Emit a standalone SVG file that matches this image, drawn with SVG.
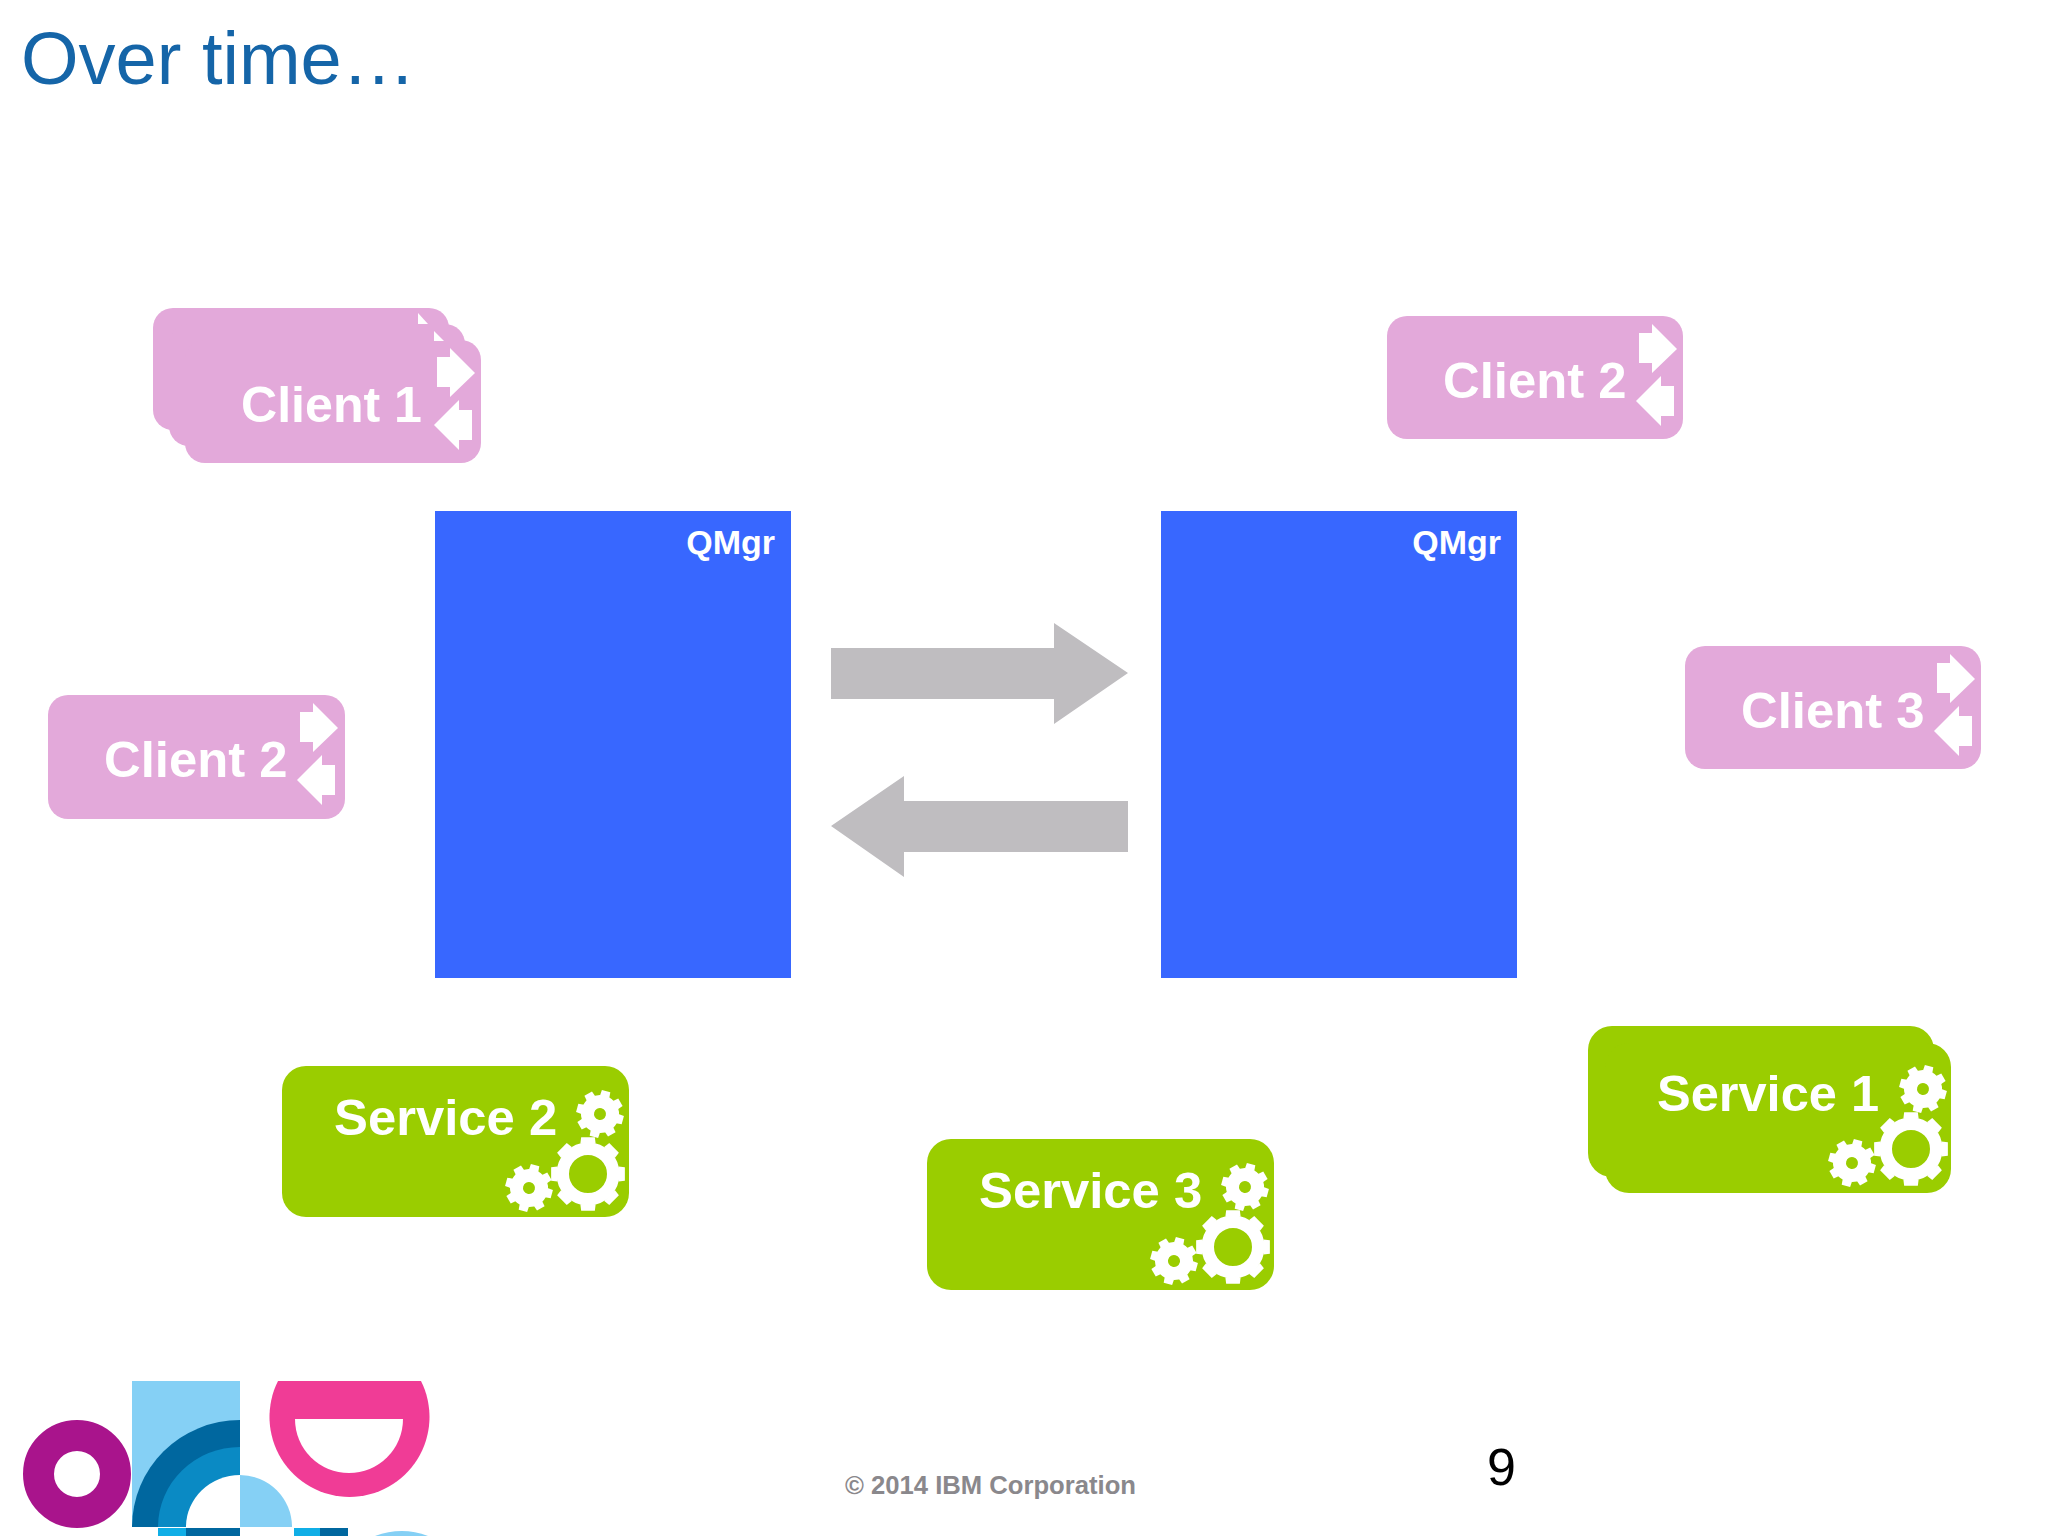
<svg xmlns="http://www.w3.org/2000/svg" xmlns:xlink="http://www.w3.org/1999/xlink" width="2048" height="1536" viewBox="0 0 2048 1536">
<style>
text{font-family:"Liberation Sans",Arial,sans-serif}
.client{fill:#e3a9da}
.service{fill:#9acd00}
.qm{fill:#3867ff}
.lbl{fill:#fff;font-weight:700;font-size:50.8px}
.qlbl{fill:#fff;font-weight:700;font-size:34px;text-anchor:end}
.conn{fill:#bfbdc0}
.ico{fill:#fff}
</style>
<defs>
<g id="inout">
<polygon class="ico" points="252,17 265,17 265,8 290,33 265,57 265,47 252,47"/>
<polygon class="ico" points="249,85 274,60 274,70 287,70 287,100 274,100 274,110"/>
</g>
<polygon id="toothS" class="ico" points="17.87,-4.79 23.6,-4.37 23.6,4.37 17.87,4.79"/>
<polygon id="toothB" class="ico" points="30.56,-7.62 36.87,-6.83 36.87,6.83 30.56,7.62"/>
<g id="gearS">
<circle r="12.5" fill="none" stroke="#fff" stroke-width="13"/>
<use href="#toothS"/><use href="#toothS" transform="rotate(45)"/><use href="#toothS" transform="rotate(90)"/><use href="#toothS" transform="rotate(135)"/>
<use href="#toothS" transform="rotate(180)"/><use href="#toothS" transform="rotate(225)"/><use href="#toothS" transform="rotate(270)"/><use href="#toothS" transform="rotate(315)"/>
</g>
<g id="gearB">
<circle r="25.25" fill="none" stroke="#fff" stroke-width="12.5"/>
<use href="#toothB"/><use href="#toothB" transform="rotate(45)"/><use href="#toothB" transform="rotate(90)"/><use href="#toothB" transform="rotate(135)"/>
<use href="#toothB" transform="rotate(180)"/><use href="#toothB" transform="rotate(225)"/><use href="#toothB" transform="rotate(270)"/><use href="#toothB" transform="rotate(315)"/>
</g>
<g id="gears">
<use href="#gearS" transform="translate(318,48) rotate(15)"/>
<use href="#gearB" transform="translate(306,108)"/>
<use href="#gearS" transform="translate(247,122) rotate(15)"/>
</g>
</defs>
<rect width="2048" height="1536" fill="#fff"/>
<text id="title" x="21" y="84" font-size="74" fill="#1565a8">Over time…</text>

<g id="qmgr-left"><rect class="qm" x="435" y="511" width="356" height="467"/><text class="qlbl" x="775" y="554">QMgr</text></g>
<g id="qmgr-right"><rect class="qm" x="1161" y="511" width="356" height="467"/><text class="qlbl" x="1501" y="554">QMgr</text></g>

<g id="connectors">
<polygon class="conn" points="831,648 1054,648 1054,623 1128,673 1054,724 1054,699 831,699"/>
<polygon class="conn" points="831,826 904,776 904,801 1128,801 1128,852 904,852 904,877"/>
</g>

<g id="client1">
<rect class="client" x="153" y="308" width="296" height="122" rx="20"/>
<rect class="client" x="169" y="324" width="296" height="122" rx="20"/>
<rect class="client" x="185" y="340" width="296" height="123" rx="20"/>
<polygon class="ico" points="418,313 428,324 418,324"/>
<polygon class="ico" points="434,331 444,341 434,341"/>
<use href="#inout" transform="translate(185,340)"/>
<text class="lbl" x="241" y="422" textLength="181" lengthAdjust="spacingAndGlyphs">Client 1</text>
</g>
<g id="client2-right" transform="translate(1387,316)">
<rect class="client" width="296" height="123" rx="20"/>
<use href="#inout"/>
<text class="lbl" x="56" y="82">Client 2</text>
</g>
<g id="client2-left" transform="translate(48,695)">
<rect class="client" width="297" height="124" rx="20"/>
<use href="#inout"/>
<text class="lbl" x="56" y="82">Client 2</text>
</g>
<g id="client3" transform="translate(1685,646)">
<rect class="client" width="296" height="123" rx="20"/>
<use href="#inout"/>
<text class="lbl" x="56" y="82">Client 3</text>
</g>

<g id="service2" transform="translate(282,1066)">
<rect class="service" width="347" height="151" rx="24"/>
<use href="#gears"/>
<text class="lbl" x="52" y="69">Service 2</text>
</g>
<g id="service3" transform="translate(927,1139)">
<rect class="service" width="347" height="151" rx="24"/>
<use href="#gears"/>
<text class="lbl" x="52" y="69">Service 3</text>
</g>
<g id="service1">
<rect class="service" x="1588" y="1026" width="346" height="151" rx="24"/>
<rect class="service" x="1605" y="1043" width="346" height="150" rx="24"/>
<use href="#gears" transform="translate(1605,1041)"/>
<text class="lbl" x="1657" y="1111" textLength="222" lengthAdjust="spacingAndGlyphs">Service 1</text>
</g>

<g id="logo">
<circle cx="77" cy="1474" r="38.5" fill="none" stroke="#a9148c" stroke-width="31"/>
<rect x="132" y="1381" width="108" height="146" fill="#85d0f5"/>
<path d="M132,1527A108,107 0 0 1 240,1420V1527Z" fill="#00679f"/>
<path d="M158,1527A82,80 0 0 1 240,1447V1527Z" fill="#0a8ac4"/>
<path d="M186,1527A54,52 0 0 1 240,1475V1527Z" fill="#fff"/>
<path d="M240,1475A52,52 0 0 1 292,1527H240Z" fill="#85d0f5"/>
<rect x="158" y="1528" width="28" height="8" fill="#10aee6"/>
<rect x="186" y="1528" width="54" height="8" fill="#00679f"/>
<rect x="294" y="1528" width="26" height="8" fill="#10aee6"/>
<rect x="320" y="1528" width="28" height="8" fill="#00679f"/>
<path d="M375,1536Q402,1526 428,1536Z" fill="#85d0f5"/>
<path d="M278,1381H421A80,80 0 1 1 278,1381Z" fill="#f03c96"/>
<path d="M295,1419H403A54,54 0 0 1 295,1419Z" fill="#fff"/>
</g>

<text id="footer" x="845" y="1494" font-size="26.5" font-weight="700" fill="#8a888c" textLength="291" lengthAdjust="spacingAndGlyphs">© 2014 IBM Corporation</text>
<text id="page" x="1487" y="1485" font-size="52" fill="#000">9</text>
</svg>
